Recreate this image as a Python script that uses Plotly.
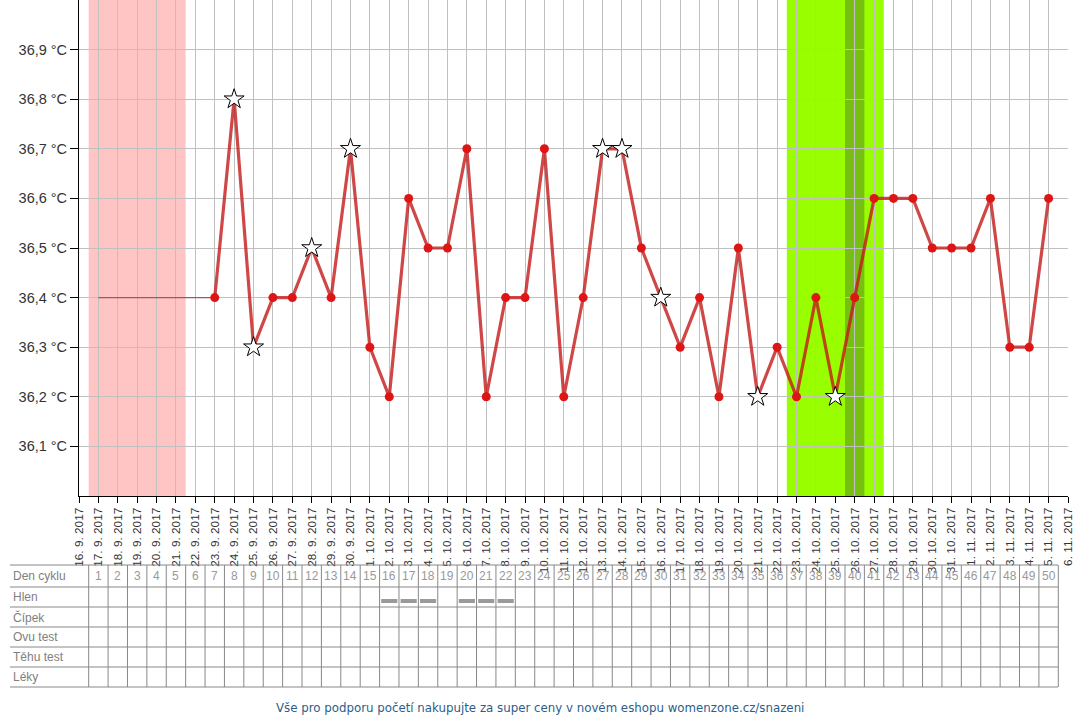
import pandas as pd
import plotly.graph_objects as go

# Axis dates (one tick per day)
start = pd.Timestamp("2017-09-16")
end = pd.Timestamp("2017-11-06")
tick_dates = pd.date_range(start, end, freq="D")
tick_labels = [f"{d.day}. {d.month}. {d.year}" for d in tick_dates]

# Measured temperatures 23.9. - 5.11.
temp_dates = pd.date_range("2017-09-23", "2017-11-05", freq="D")
temps = [36.4, 36.8, 36.3, 36.4, 36.4, 36.5, 36.4, 36.7,                    # 23.9 - 30.9
         36.3, 36.2, 36.6, 36.5, 36.5, 36.7, 36.2, 36.4, 36.4, 36.7,        # 1.10 - 10.10
         36.2, 36.4, 36.7, 36.7, 36.5, 36.4, 36.3, 36.4, 36.2, 36.5,        # 11.10 - 20.10
         36.2, 36.3, 36.2, 36.4, 36.2, 36.4, 36.6, 36.6, 36.6, 36.5, 36.5,  # 21.10 - 31.10
         36.5, 36.6, 36.3, 36.3, 36.6]                                      # 1.11 - 5.11

# days marked with a star (disturbed measurement)
star_dates = pd.to_datetime(["2017-09-24", "2017-09-25", "2017-09-28", "2017-09-30",
                             "2017-10-13", "2017-10-14", "2017-10-16", "2017-10-21",
                             "2017-10-25"])

# thin filler line before first measurement
pre_dates = ["2017-09-17", "2017-09-23"]
pre_temps = [36.4, 36.4]

# bands
period_band = ("2017-09-16 12:00", "2017-09-21 12:00")
fertile_band = ("2017-10-22 12:00", "2017-10-27 12:00")
ovulation_band = ("2017-10-25 12:00", "2017-10-26 12:00")

y_ticks = [36.1, 36.2, 36.3, 36.4, 36.5, 36.6, 36.7, 36.8, 36.9]
y_labels = [f"{v:.1f}".replace(".", ",") + " °C" for v in y_ticks]

# table below the chart
row_labels = ["Den cyklu", "Hlen", "Čípek", "Ovu test", "Těhu test", "Léky"]
cycle_days = list(range(1, 51))
hlen_days = [16, 17, 18, 20, 21, 22]

# pixel geometry of the plot area
PL, PW, PT, PH = 79, 989, 0, 496


def py(p):
    return (PT + PH - p) / PH


def pxx(p):
    return (p - PL) / PW


def day_date(d, hours=0):
    return start + pd.Timedelta(days=d) + pd.Timedelta(hours=hours)


fig = go.Figure()

fig.add_trace(go.Scatter(x=pre_dates, y=pre_temps, mode="lines",
                         line=dict(color="rgba(150,60,60,0.8)", width=1.2),
                         showlegend=False, hoverinfo="skip"))

fig.add_trace(go.Scatter(x=temp_dates, y=temps, mode="lines",
                         line=dict(color="rgba(195,25,25,0.8)", width=3.2),
                         showlegend=False))

is_star = [d in set(star_dates) for d in temp_dates]
dot_x = [d for d, s in zip(temp_dates, is_star) if not s]
dot_y = [t for t, s in zip(temps, is_star) if not s]
star_x = [d for d, s in zip(temp_dates, is_star) if s]
star_y = [t for t, s in zip(temps, is_star) if s]

fig.add_trace(go.Scatter(x=dot_x, y=dot_y, mode="markers",
                         marker=dict(color="#dd1515", size=9),
                         showlegend=False))
fig.add_trace(go.Scatter(x=star_x, y=star_y, mode="markers",
                         marker=dict(symbol="star", color="white", size=15,
                                     line=dict(color="black", width=1)),
                         showlegend=False))

# coloured bands (below grid)
for (x0, x1), col in [(period_band, "#ffc4c4"), (fertile_band, "#99ff00"),
                      (ovulation_band, "#77c012")]:
    fig.add_shape(type="rect", xref="x", yref="paper", x0=x0, x1=x1, y0=0, y1=1,
                  fillcolor=col, line_width=0, layer="below")

# table grid
row_lines = [565, 587, 607, 627, 647, 667, 687]
for yl in row_lines:
    fig.add_shape(type="line", xref="paper", yref="paper",
                  x0=pxx(10), x1=pxx(1058), y0=py(yl), y1=py(yl),
                  line=dict(color="#888888", width=1))
for d in range(0, 51):
    xd = day_date(d, 12)
    fig.add_shape(type="line", xref="x", yref="paper", x0=xd, x1=xd,
                  y0=py(row_lines[0]), y1=py(row_lines[-1]),
                  line=dict(color="#888888", width=1))

for i, lab in enumerate(row_labels):
    yc = (row_lines[i] + row_lines[i + 1]) / 2
    fig.add_annotation(text=lab, xref="paper", yref="paper", x=pxx(11), y=py(yc),
                       xanchor="left", yanchor="middle", showarrow=False,
                       font=dict(family="Arial, Liberation Sans", size=12, color="#808080"))

yc0 = (row_lines[0] + row_lines[1]) / 2
for d in cycle_days:
    fig.add_annotation(text=str(d), xref="x", yref="paper", x=day_date(d), y=py(yc0),
                       xanchor="center", yanchor="middle", showarrow=False,
                       font=dict(family="Arial, Liberation Sans", size=12, color="#999999"))

for d in hlen_days:
    fig.add_shape(type="rect", xref="x", yref="paper",
                  x0=day_date(d, -10), x1=day_date(d, 10),
                  y0=py(603), y1=py(599), fillcolor="#9a9a9a", line_width=0)

fig.add_annotation(text="Vše pro podporu početí nakupujte za super ceny v novém eshopu womenzone.cz/snazeni",
                   xref="paper", yref="paper", x=pxx(540), y=py(708),
                   xanchor="center", yanchor="middle", showarrow=False,
                   font=dict(family="DejaVu Sans", size=11.8, color="#2b5d8c"))

fig.update_xaxes(type="date", range=[start, end],
                 tickvals=tick_dates, ticktext=tick_labels, tickangle=-90,
                 tickfont=dict(family="Arial, Liberation Sans", size=11.8, color="#333333"),
                 showgrid=True, gridcolor="#c0c0c0", gridwidth=1,
                 showline=True, linecolor="black", linewidth=1,
                 ticks="outside", ticklen=6, tickcolor="black", zeroline=False)
fig.update_yaxes(range=[36.0, 37.0], tickvals=y_ticks, ticktext=y_labels,
                 tickfont=dict(family="Arial, Liberation Sans", size=14.5, color="#333333"),
                 showgrid=True, gridcolor="#c0c0c0", gridwidth=1,
                 showline=True, linecolor="black", linewidth=1,
                 ticks="outside", ticklen=8, tickcolor="black", zeroline=False)

fig.update_layout(width=1080, height=720,
                  margin=dict(l=PL, r=1080 - PL - PW, t=PT, b=720 - PT - PH),
                  paper_bgcolor="white", plot_bgcolor="white",
                  showlegend=False)

# page has a default body margin; remove it so the chart sits at the corner
fig.write_html("out.html", config={"displayModeBar": False},
               post_script="document.body.style.margin='0';")
